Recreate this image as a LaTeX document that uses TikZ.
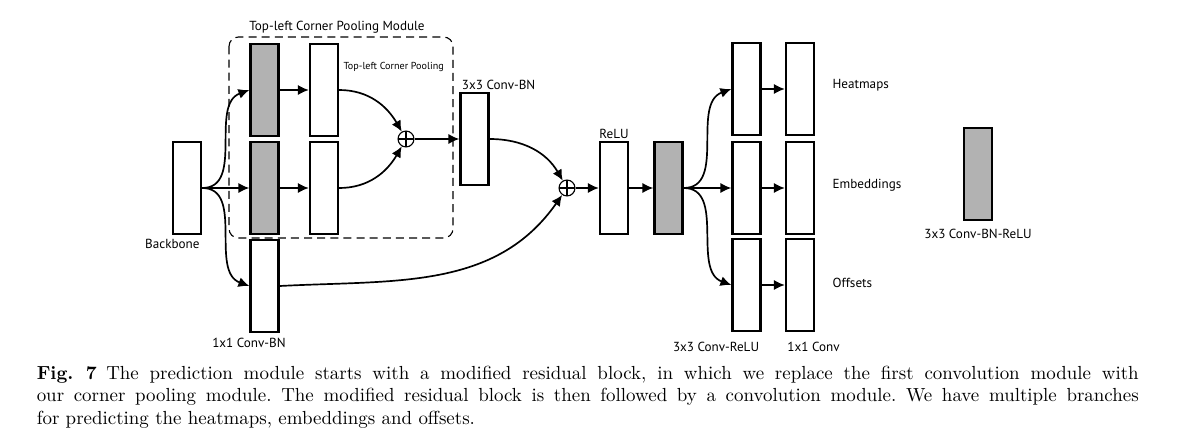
\documentclass[tikz,border=0pt]{standalone}
\usepackage{fontspec}
\newfontfamily\diagfont{PT Sans}
\usetikzlibrary{arrows.meta}

\begin{document}
\begin{tikzpicture}[x=0.5333pt,y=0.5333pt,thick]

\tikzstyle{conv}=[rectangle, draw, line width=1.2pt, fill=white, minimum width=15pt, minimum height=49pt, inner sep=0pt]
\tikzstyle{convrelu}=[conv, fill=black!30]
\tikzstyle{plus}=[circle, draw, line width=0.6pt, minimum size=8.5pt, inner sep=0pt, path picture={\draw[line width=0.6pt] (path picture bounding box.north) -- (path picture bounding box.south) (path picture bounding box.west) -- (path picture bounding box.east);}]
\tikzstyle{lbl}=[font=\diagfont\fontsize{7}{8}\selectfont, inner sep=1pt]
\tikzstyle{small}=[font=\diagfont\fontsize{5.4}{6}\selectfont, inner sep=1pt]
\tikzstyle{flow}=[-{Latex[length=5.8pt,width=5.4pt]}, line width=0.9pt]

	\useasboundingbox (0,0) rectangle (1184,-438);

	% corner pooling module
	\draw[dashed, dash pattern=on 4.3pt off 2.7pt, line width=0.6pt, rounded corners=5pt] (229,-37) rectangle (453,-238);
	\node[lbl] (modlbl) at (337,-27) {Top-left Corner Pooling Module};

	\node[conv] (bb) at (187,-188) {};
	\node[convrelu] (g1) at (264.5,-90) {};
	\node[convrelu] (g2) at (264.5,-188) {};
	\node[conv] (p1) at (324,-90) {};
	\node[conv] (p2) at (324,-188) {};
	\node[conv] (sk) at (264.5,-286) {};
	\node[plus] (plus1) at (406,-139) {};
	\node[conv] (cbn) at (474.5,-139) {};

	% residual sum and convolution module
	\node[plus] (plus2) at (567,-188) {};
	\node[conv] (relu) at (614,-188) {};
	\node[convrelu] (cbr) at (668.5,-188) {};

	% prediction branches
	\node[conv] (h1) at (746.5,-89) {};
	\node[conv] (h2) at (746.5,-188) {};
	\node[conv] (h3) at (746.5,-285) {};
	\node[conv] (c1) at (800,-89) {};
	\node[conv] (c2) at (800,-188) {};
	\node[conv] (c3) at (800,-285) {};

	% legend
	\node[convrelu] (leg) at (978,-174) {};

	\node[lbl, anchor=north east] (bblbl) at ([yshift=-1pt]bb.south east) {Backbone};
	\node[lbl] (sklbl) at (249,-343) {1x1 Conv-BN};
	\node[small, anchor=west] (poollbl) at (341,-67) {Top-left Corner Pooling};
	\node[lbl, anchor=south west] (cbnlbl) at (cbn.north west) {3x3 Conv-BN};
	\node[lbl, anchor=south] (relulbl) at (relu.north) {ReLU};
	\node[lbl, anchor=north east] (hlbl) at ([yshift=-4pt]h3.south east) {3x3 Conv-ReLU};
	\node[lbl, anchor=north west] (clbl) at ([yshift=-4pt]c3.south west) {1x1 Conv};
	\node[lbl, anchor=west] (heat) at (830,-85) {Heatmaps};
	\node[lbl, anchor=west] (emb) at (830,-185) {Embeddings};
	\node[lbl, anchor=west] (off) at (830,-283) {Offsets};
	\node[lbl, anchor=north] (leglbl) at ([yshift=-3pt]leg.south) {3x3 Conv-BN-ReLU};

	% connections
	\draw[flow] (bb.east) to[out=0,in=200] (g1.west);
	\draw[flow] (bb.east) -- (g2.west);
	\draw[flow] (bb.east) to[out=0,in=160] (sk.west);
	\draw[flow] (g1) -- (p1);
	\draw[flow] (g2) -- (p2);
	\draw[flow] (p1.east) to[out=0,in=120] (plus1);
	\draw[flow] (p2.east) to[out=0,in=240] (plus1);
	\draw[flow] (plus1) -- (cbn);
	\draw[flow] (cbn.east) to[out=0,in=120] (plus2);
	\draw[flow] (sk.east) to[out=3,in=235] (plus2);
	\draw[flow] (plus2) -- (relu);
	\draw[flow] (relu) -- (cbr);
	\draw[flow] (cbr.east) to[out=0,in=200] (h1.west);
	\draw[flow] (cbr.east) -- (h2.west);
	\draw[flow] (cbr.east) to[out=0,in=160] (h3.west);
	\draw[flow] (h1) -- (c1);
	\draw[flow] (h2) -- (c2);
	\draw[flow] (h3) -- (c3);

	% caption
	\node[anchor=north west, text width=587.7pt, align=justify, inner sep=0pt, font=\fontsize{10.1}{12}\selectfont\frenchspacing] (cap) at (36,-365)
		{\textbf{Fig.~7}\enspace The prediction module starts with a modified residual block, in which we replace the first convolution module with\linebreak
		our corner pooling module. The modified residual block is then followed by a convolution module. We have multiple branches\linebreak
		for predicting the heatmaps, embeddings and offsets.};
\end{tikzpicture}
\end{document}
